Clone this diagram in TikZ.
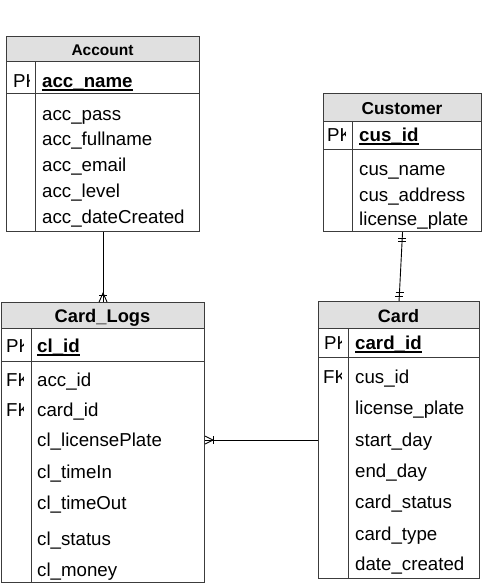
\documentclass[tikz,border=0pt]{standalone}
\usepackage{fontspec}
\setmainfont{Liberation Sans}
\usetikzlibrary{calc}
\definecolor{hdrfill}{HTML}{E0E0E0}
\definecolor{edgecol}{HTML}{3C3C3C}
\tikzset{
  tblbox/.style={draw=edgecol, line width=1.1pt, inner sep=0pt, anchor=north west},
  hdrbox/.style={fill=hdrfill},
  divline/.style={draw=edgecol, line width=1pt},
  ttl/.style={font=\bfseries\fontsize{#1}{#1}\selectfont, inner sep=0pt, anchor=base},
  fld/.style={font=\fontsize{18.7}{20}\selectfont, inner sep=0pt, anchor=base west},
  pkf/.style={font=\bfseries\fontsize{18.7}{20}\selectfont, inner sep=0pt, anchor=base west},
  keylbl/.style={font=\fontsize{18.7}{20}\selectfont, inner sep=0pt, anchor=base west},
  ulline/.style={line width=1.2pt},
  conn/.style={draw=black, line width=0.9pt},
  ermark/.style={draw=black, line width=0.9pt}
}
\begin{document}
\begin{tikzpicture}[x=1pt,y=-1pt]
\path[use as bounding box] (0,0) rectangle (483,587);

% ---------------- Account ----------------
\fill[hdrbox] (6,36) rectangle (199,61);
\node[tblbox, minimum width=193pt, minimum height=195pt] (acc) at (6,36) {};
\draw[divline] (6,61) -- (199,61) (6,93) -- (199,93) (35,61) -- (35,231);
\node[ttl=15.5] (accT) at (102.5,55) {Account};
\begin{scope}\clip (6,61) rectangle (29,93);
\node[keylbl] (accPK) at (13,87) {PK};
\end{scope}
\node[pkf] (accN) at (42,87) {acc\_name};
\draw[ulline] ($(accN.base west)+(0,3)$) -- ($(accN.base east)+(0,3)$);
\node[fld] (a1) at (42,120) {acc\_pass};
\node[fld] (a2) at (42,145.5) {acc\_fullname};
\node[fld] (a3) at (42,171.5) {acc\_email};
\node[fld] (a4) at (42,197) {acc\_level};
\node[fld] (a5) at (42,223) {acc\_dateCreated};

% ---------------- Customer ----------------
\fill[hdrbox] (323,93) rectangle (481,121);
\node[tblbox, minimum width=158pt, minimum height=138pt] (cus) at (323,93) {};
\draw[divline] (323,121) -- (481,121) (323,149) -- (481,149) (352,121) -- (352,231);
\node[ttl=17.3] (cusT) at (402,114) {Customer};
\begin{scope}\clip (323,121) rectangle (345,149);
\node[keylbl] (cusPK) at (327,141) {PK};
\end{scope}
\node[pkf] (cusN) at (359,141) {cus\_id};
\draw[ulline] ($(cusN.base west)+(0,3)$) -- ($(cusN.base east)+(0,3)$);
\node[fld] (c1) at (359,175.5) {cus\_name};
\node[fld] (c2) at (359,201) {cus\_address};
\node[fld] (c3) at (359,225.5) {license\_plate};

% ---------------- Card_Logs ----------------
\fill[hdrbox] (1,302) rectangle (204,328);
\node[tblbox, minimum width=203pt, minimum height=280pt] (logs) at (1,302) {};
\draw[divline] (1,328) -- (204,328) (1,361) -- (204,361) (31,328) -- (31,582);
\node[ttl=18.3] (logsT) at (102.5,322) {Card\_Logs};
\begin{scope}\clip (1,328) rectangle (23,582);
\node[keylbl] (lPK) at (6,352) {PK};
\node[keylbl] (lFK1) at (6,386) {FK};
\node[keylbl] (lFK2) at (6,416) {FK};
\end{scope}
\node[pkf] (logsN) at (37,352) {cl\_id};
\draw[ulline] ($(logsN.base west)+(0,3)$) -- ($(logsN.base east)+(0,3)$);
\node[fld] (l1) at (37,386) {acc\_id};
\node[fld] (l2) at (37,416) {card\_id};
\node[fld] (l3) at (37,446) {cl\_licensePlate};
\node[fld] (l4) at (37,478) {cl\_timeIn};
\node[fld] (l5) at (37,509.5) {cl\_timeOut};
\node[fld] (l6) at (37,545) {cl\_status};
\node[fld] (l7) at (37,576) {cl\_money};

% ---------------- Card ----------------
\fill[hdrbox] (318,301) rectangle (479,328);
\node[tblbox, minimum width=161pt, minimum height=277pt] (card) at (318,301) {};
\draw[divline] (318,328) -- (479,328) (318,357) -- (479,357) (348,328) -- (348,578);
\node[ttl=18] (cardT) at (398.5,322) {Card};
\begin{scope}\clip (318,328) rectangle (341,578);
\node[keylbl] (kPK) at (324,349) {PK};
\node[keylbl] (kFK) at (323,383.5) {FK};
\end{scope}
\node[pkf] (cardN) at (355,349) {card\_id};
\draw[ulline] ($(cardN.base west)+(0,3)$) -- ($(cardN.base east)+(0,3)$);
\node[fld] (k1) at (355,383.5) {cus\_id};
\node[fld] (k2) at (355,414.5) {license\_plate};
\node[fld] (k3) at (355,446) {start\_day};
\node[fld] (k4) at (355,477) {end\_day};
\node[fld] (k5) at (355,508.5) {card\_status};
\node[fld] (k6) at (355,540) {card\_type};
\node[fld] (k7) at (355,570) {date\_created};

% ---------------- Connectors ----------------
\draw[conn] (acc.south) -- (logs.north);
\coordinate (fa) at ($(logs.north)+(0,-9)$);
\draw[ermark] ($(logs.north)+(-4,-7)$) -- ($(logs.north)+(4,-7)$);
\draw[ermark] ($(logs.north)+(-4,0)$) -- (fa) -- ($(logs.north)+(4,0)$);

\draw[conn] (cus.south) -- (card.north);
\coordinate (b1) at ($(cus.south)!6pt!(card.north)$);
\coordinate (b2) at ($(cus.south)!9pt!(card.north)$);
\coordinate (b3) at ($(card.north)!5pt!(cus.south)$);
\coordinate (b4) at ($(card.north)!9pt!(cus.south)$);
\draw[ermark] ($(b1)+(-4,0)$) -- ($(b1)+(4,0)$);
\draw[ermark] ($(b2)+(-4,0)$) -- ($(b2)+(4,0)$);
\draw[ermark] ($(b3)+(-4,0)$) -- ($(b3)+(4,0)$);
\draw[ermark] ($(b4)+(-4,0)$) -- ($(b4)+(4,0)$);

\coordinate (le) at (logs.east |- card.west);
\draw[conn] (card.west) -- (le);
\coordinate (fb) at ($(le)+(8,0)$);
\draw[ermark] ($(le)+(8,-4)$) -- ($(le)+(8,4)$);
\draw[ermark] ($(le)+(0,-4)$) -- (fb) -- ($(le)+(0,4)$);
\end{tikzpicture}
\end{document}
